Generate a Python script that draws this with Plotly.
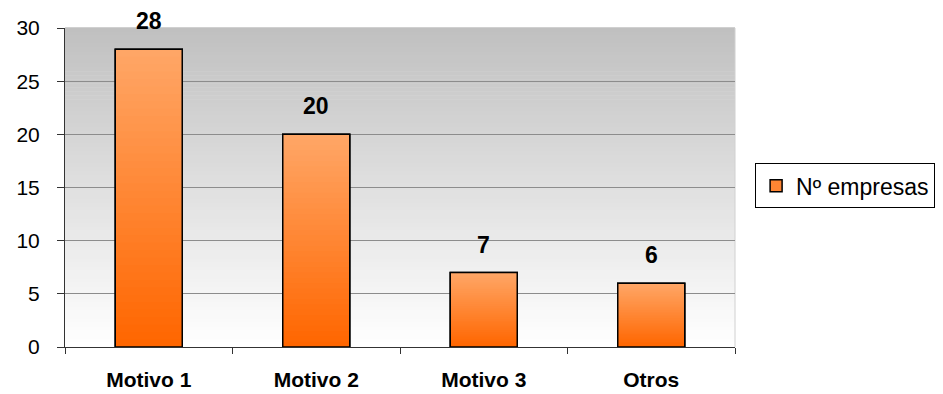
import plotly.graph_objects as go

categories = ["Motivo 1", "Motivo 2", "Motivo 3", "Otros"]
values = [28, 20, 7, 6]
series_name = "Nº empresas"
y_ticks = [0, 5, 10, 15, 20, 25, 30]

FONT = "Liberation Sans, Arial, sans-serif"
BAR_W = 0.4
N_SEG = 40
top_rgb = (255, 166, 102)
bot_rgb = (255, 102, 0)


def mix(c1, c2, t):
    return "rgb(%d,%d,%d)" % tuple(round(a + (b - a) * t) for a, b in zip(c1, c2))


fig = go.Figure()

# Legend / base trace
fig.add_trace(go.Bar(
    x=categories, y=values, width=BAR_W, name=series_name,
    marker=dict(color="#ff8533", line=dict(color="black", width=1.5)),
    showlegend=True, hoverinfo="skip",
))

# Gradient segments (dark at bottom -> light at top)
for k in range(N_SEG):
    t = k / (N_SEG - 1)
    bases = [v * k / N_SEG for v in values]
    heights = [v - b for v, b in zip(values, bases)]
    fig.add_trace(go.Bar(
        x=categories, y=heights, base=bases, width=BAR_W,
        marker=dict(color=mix(bot_rgb, top_rgb, t), line=dict(width=0)),
        showlegend=False, hoverinfo="skip",
    ))

# Outline
fig.add_trace(go.Bar(
    x=categories, y=values, width=BAR_W,
    marker=dict(color="rgba(0,0,0,0)", line=dict(color="black", width=1.5)),
    showlegend=False, hoverinfo="skip",
))

# Value labels
for c, v in zip(categories, values):
    fig.add_annotation(
        x=c, y=v, text=str(v), showarrow=False, yanchor="bottom", yshift=13,
        font=dict(family=FONT, size=23, color="black", weight="bold"),
    )

# Background gradient (gray top -> white bottom)
N_BG = 80
shapes = []
for k in range(N_BG):
    t = k / (N_BG - 1)
    shapes.append(dict(
        type="rect", xref="x domain", yref="y domain",
        x0=0, x1=1, y0=1 - (k + 1) / N_BG, y1=1 - k / N_BG + 0.002,
        fillcolor=mix((192, 192, 192), (255, 255, 255), t),
        line=dict(width=0), layer="below",
    ))
shapes.append(dict(type="line", xref="x domain", yref="y domain",
                   x0=1, x1=1, y0=0, y1=1, line=dict(color="#d0d0d0", width=1),
                   layer="below"))

fig.update_layout(
    width=943, height=394,
    margin=dict(l=65, r=208, t=28, b=47, autoexpand=False),
    paper_bgcolor="white", plot_bgcolor="white",
    barmode="overlay", bargap=0.6,
    shapes=shapes,
    font=dict(family=FONT, color="black"),
    legend=dict(
        x=1.03, y=0.505, xanchor="left", yanchor="middle",
        bordercolor="black", borderwidth=1, bgcolor="white",
        font=dict(family=FONT, size=23, color="black"),
    ),
    xaxis=dict(
        showline=True, linecolor="#333333", linewidth=1,
        ticks="outside", tickson="boundaries", ticklen=6, tickcolor="#333333",
        tickfont=dict(family=FONT, size=21, color="black", weight="bold"),
        ticklabelstandoff=14, automargin=False, showgrid=False,
    ),
    yaxis=dict(
        range=[0, 30], tickvals=y_ticks,
        showline=True, linecolor="#333333", linewidth=1,
        ticks="outside", ticklen=7, tickcolor="#333333",
        tickfont=dict(family=FONT, size=21, color="black"),
        ticklabelstandoff=13, automargin=False,
        showgrid=True, gridcolor="#8c8c8c", gridwidth=1, zeroline=False,
    ),
)

fig.write_html("out.html")
